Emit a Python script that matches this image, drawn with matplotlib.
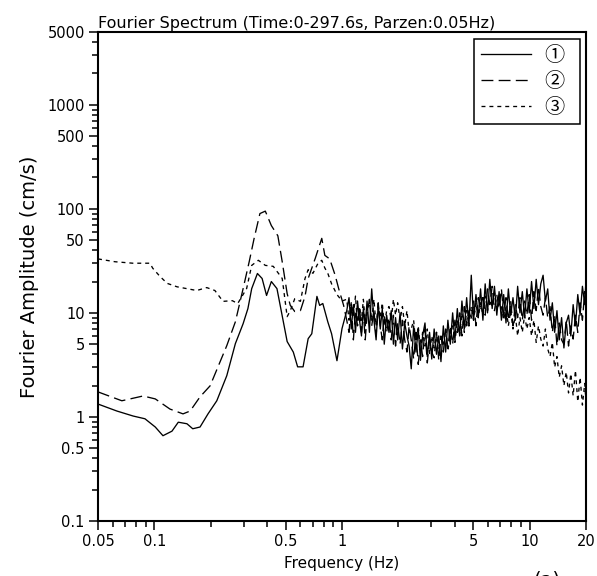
import matplotlib
matplotlib.use("Agg")
import matplotlib.pyplot as plt
from matplotlib.ticker import LogLocator, NullFormatter

# ---- low-frequency part (0.05 - 1 Hz) ----
f1_low = [0.05, 0.063, 0.077, 0.089, 0.101, 0.111, 0.124, 0.134, 0.149, 0.16,
          0.175, 0.193, 0.215, 0.243, 0.27, 0.297, 0.315, 0.33, 0.354, 0.375,
          0.396, 0.42, 0.45, 0.48, 0.51, 0.55, 0.58, 0.62, 0.66, 0.69,
          0.735, 0.76, 0.79, 0.84, 0.88, 0.94, 1.0]
a1_low = [1.33, 1.14, 1.02, 0.96, 0.80, 0.66, 0.73, 0.89, 0.86, 0.77,
          0.80, 1.07, 1.43, 2.49, 5.06, 7.87, 11, 17.1, 23.9, 21.4,
          14.7, 20, 17.1, 9.4, 5.3, 4.2, 3.03, 3.03, 5.65, 6.3,
          14.4, 11.8, 12.3, 8.2, 6.3, 3.47, 7.06]

f2_low = [0.05, 0.067, 0.087, 0.101, 0.121, 0.142, 0.155, 0.175, 0.198, 0.218,
          0.243, 0.27, 0.297, 0.32, 0.34, 0.365, 0.39, 0.42, 0.455, 0.48,
          0.51, 0.53, 0.56, 0.60, 0.635, 0.66, 0.72, 0.78, 0.81, 0.86,
          0.92, 0.96, 1.02]
a2_low = [1.74, 1.43, 1.59, 1.49, 1.19, 1.07, 1.14, 1.56, 1.99, 3.03,
          4.84, 8.2, 17.1, 31, 52, 90, 95, 69, 55, 31,
          15.3, 11.8, 10.3, 10.5, 14.4, 21.4, 33.4, 52, 35.7, 33,
          22.9, 17.1, 11.8]

f3_low = [0.05, 0.0616, 0.0768, 0.0945, 0.098, 0.107, 0.117, 0.132, 0.149, 0.168,
          0.19, 0.21, 0.232, 0.26, 0.278, 0.31, 0.33, 0.358, 0.39, 0.43,
          0.48, 0.51, 0.53, 0.56, 0.6, 0.635, 0.66, 0.70, 0.745, 0.78,
          0.81, 0.84, 0.88, 0.94, 1.0]
a3_low = [33, 31, 30, 30, 26.8, 22.4, 19.2, 17.8, 17.1, 16.4,
          17.5, 16.4, 12.9, 13.1, 12.3, 17.1, 28.6, 32, 28.6, 28,
          21.4, 9.2, 10.5, 13.7, 12.9, 21.4, 26, 24, 30, 32,
          27, 24, 19, 15, 13]

# ---- high-frequency part (1 - 20 Hz), shared frequencies ----
f_high = [1.06, 1.09, 1.12, 1.15, 1.18, 1.21, 1.24, 1.27, 1.30, 1.33,
          1.36, 1.40, 1.44, 1.48, 1.52, 1.56, 1.60, 1.64, 1.68, 1.73,
          1.78, 1.83, 1.88, 1.93, 1.98, 2.04, 2.10, 2.16, 2.22, 2.28,
          2.34, 2.41, 2.48, 2.55, 2.62, 2.69, 2.77, 2.85, 2.93, 3.01,
          3.10, 3.19, 3.28, 3.37, 3.47, 3.57, 3.67, 3.78, 3.89, 4.00,
          4.12, 4.24, 4.36, 4.49, 4.62, 4.75, 4.89, 5.03, 5.18, 5.33,
          5.48, 5.64, 5.80, 5.97, 6.14, 6.32, 6.50, 6.69, 6.88, 7.08,
          7.28, 7.49, 7.71, 7.93, 8.16, 8.40, 8.64, 8.89, 9.15, 9.41,
          9.68, 9.96, 10.25, 10.55, 10.85, 11.16, 11.48, 11.81, 12.15, 12.50,
          12.86, 13.23, 13.61, 14.00, 14.40, 14.82, 15.25, 15.69, 16.14, 16.60,
          17.08, 17.57, 18.08, 18.60, 19.14, 19.69, 20.0]
a1_high = [10.5, 14, 7, 12, 6.5, 13, 8.5, 6, 11, 7.5,
           13, 6.5, 17, 8.5, 5.5, 12, 7, 11, 5, 9.5,
           6.5, 10.5, 5, 9, 5.5, 10, 4.5, 8, 6, 4.8,
           2.9, 7.5, 4.2, 7, 3.5, 6, 8, 3.8, 6.5, 3.6,
           7, 4, 6, 3.4, 7.5, 4.2, 8.5, 5, 10, 5.5,
           11, 6, 13, 7, 14, 7.5, 23, 8.5, 15, 9,
           17, 8.5, 19, 10, 21, 11, 18, 9.5, 16, 8.5,
           15, 8, 17, 9.5, 14, 8.5, 18, 10, 16, 9,
           17, 10, 20, 11, 21, 12, 19, 23, 13, 17,
           8.5, 12.5, 6.5, 10.5, 5.5, 9, 4.6, 8, 9.5, 6,
           12, 7.5, 15, 9.5, 18, 12, 21]
a2_high = [8.5, 6.5, 12.5, 5.5, 10.5, 7.5, 11.5, 6.5, 10, 5.5,
           9.5, 13.5, 7.5, 10.5, 6, 12.5, 7.5, 5.5, 9.5, 6.5,
           9, 5.5, 9.5, 4.8, 8, 5, 8.5, 5.5, 4.2, 7.5,
           5.5, 3.6, 6.5, 3.2, 5.5, 3.8, 7, 3.3, 5.5, 4.2,
           3.7, 6.5, 3.5, 6, 4.2, 7, 4.6, 7.5, 5, 8.5,
           6.5, 10, 6, 11.5, 7.5, 10.5, 8.5, 13, 7.5, 14,
           10.5, 15, 9.5, 17, 12, 18, 10.5, 15, 11, 17,
           9.5, 14, 8.5, 13, 7.5, 12, 9, 14, 8.5, 13,
           9.5, 15, 8.5, 16, 10.5, 18, 11.5, 9.5, 14, 9,
           11.5, 6.5, 9.5, 4.8, 8, 5.5, 5, 8.5, 4.8, 7.5,
           5.6, 9.5, 6.5, 12.5, 8.5, 16, 11]
a3_high = [13.5, 8.5, 12.5, 9.5, 14.5, 7.5, 11.5, 8.5, 13.5, 8,
           10.5, 12.5, 8.5, 13.5, 7.5, 11.5, 9, 12.5, 7.5, 10.5,
           11.5, 8.5, 13.5, 9.5, 12.5, 8.5, 11.5, 7.5, 10.5, 6.5,
           7, 8.5, 4.8, 7.5, 4.3, 6.5, 4.8, 7, 4, 6,
           4.6, 6.5, 4, 6, 4.8, 7, 4.3, 6.5, 7.5, 5.2,
           8.5, 6, 10, 6.5, 10.5, 7.5, 11.5, 8.5, 12.5, 9,
           12.5, 9.5, 14.5, 10.5, 13.5, 11.5, 15.5, 10.5, 13.5, 11.5,
           8.5, 11.5, 7.5, 10.5, 7, 9.5, 6, 9, 6.5, 9.5,
           7, 9, 6, 8.5, 5.2, 7.5, 5.6, 4.8, 7, 4.5,
           3.8, 5.2, 3, 3.8, 2.4, 3.1, 2, 2.7, 1.7, 2.6,
           1.6, 2.8, 1.4, 2.4, 1.3, 2.1, 1.4]

labels = ["\u2460  ", "\u2461  ", "\u2462  "]
x_major = [0.05, 0.1, 0.5, 1, 5, 10, 20]
y_major = [0.1, 0.5, 1, 5, 10, 50, 100, 500, 1000, 5000]

fig = plt.figure(figsize=(5.97, 5.76), dpi=100)
ax = fig.add_axes([98 / 597, 55 / 576, 488 / 597, 489 / 576])

ax.plot(f1_low + f_high, a1_low + a1_high, color="black", lw=0.95,
        linestyle="-", label=labels[0])
ax.plot(f2_low + f_high, a2_low + a2_high, color="black", lw=0.95,
        linestyle=(0, (9, 4)), label=labels[1])
ax.plot(f3_low + f_high, a3_low + a3_high, color="black", lw=0.95,
        linestyle=(0, (3, 3)), label=labels[2])

ax.set_xscale("log")
ax.set_yscale("log")
ax.set_xlim(0.05, 20)
ax.set_ylim(0.1, 5000)

ax.set_xticks(x_major, labels=["%g" % v for v in x_major])
ax.set_yticks(y_major, labels=["%g" % v for v in y_major])
ax.xaxis.set_minor_locator(LogLocator(base=10, subs=(2, 3, 4, 5, 6, 7, 8, 9)))
ax.yaxis.set_minor_locator(LogLocator(base=10, subs=(2, 3, 4, 5, 6, 7, 8, 9)))
ax.xaxis.set_minor_formatter(NullFormatter())
ax.yaxis.set_minor_formatter(NullFormatter())
ax.tick_params(which="major", direction="out", length=6.5, width=1.1,
               labelsize=10.5, pad=3)
ax.tick_params(which="minor", direction="out", length=4.5, width=1.1)
for s in ax.spines.values():
    s.set_linewidth(1.5)

ax.set_xlabel("Frequency (Hz)", fontsize=11, labelpad=5)
ax.set_ylabel("Fourier Amplitude (cm/s)", fontsize=14, labelpad=6)
fig.text(98 / 597, (576 - 28) / 576,
         "Fourier Spectrum (Time:0-297.6s, Parzen:0.05Hz)",
         fontsize=11.5, ha="left", va="baseline")

leg = ax.legend(loc="upper right", bbox_to_anchor=(0.988, 0.986),
                borderaxespad=0, fancybox=False, framealpha=1,
                edgecolor="black", handlelength=2.5, handletextpad=0.7,
                labelspacing=0.25, borderpad=0.3,
                prop={"family": ["Noto Sans CJK JP", "DejaVu Sans"], "size": 14.5})
leg.get_frame().set_linewidth(1.1)

fig.text(547 / 597, (576 - 571) / 576, "(a)", fontsize=14,
         ha="center", va="top")

fig.savefig("out.png", dpi=100)
